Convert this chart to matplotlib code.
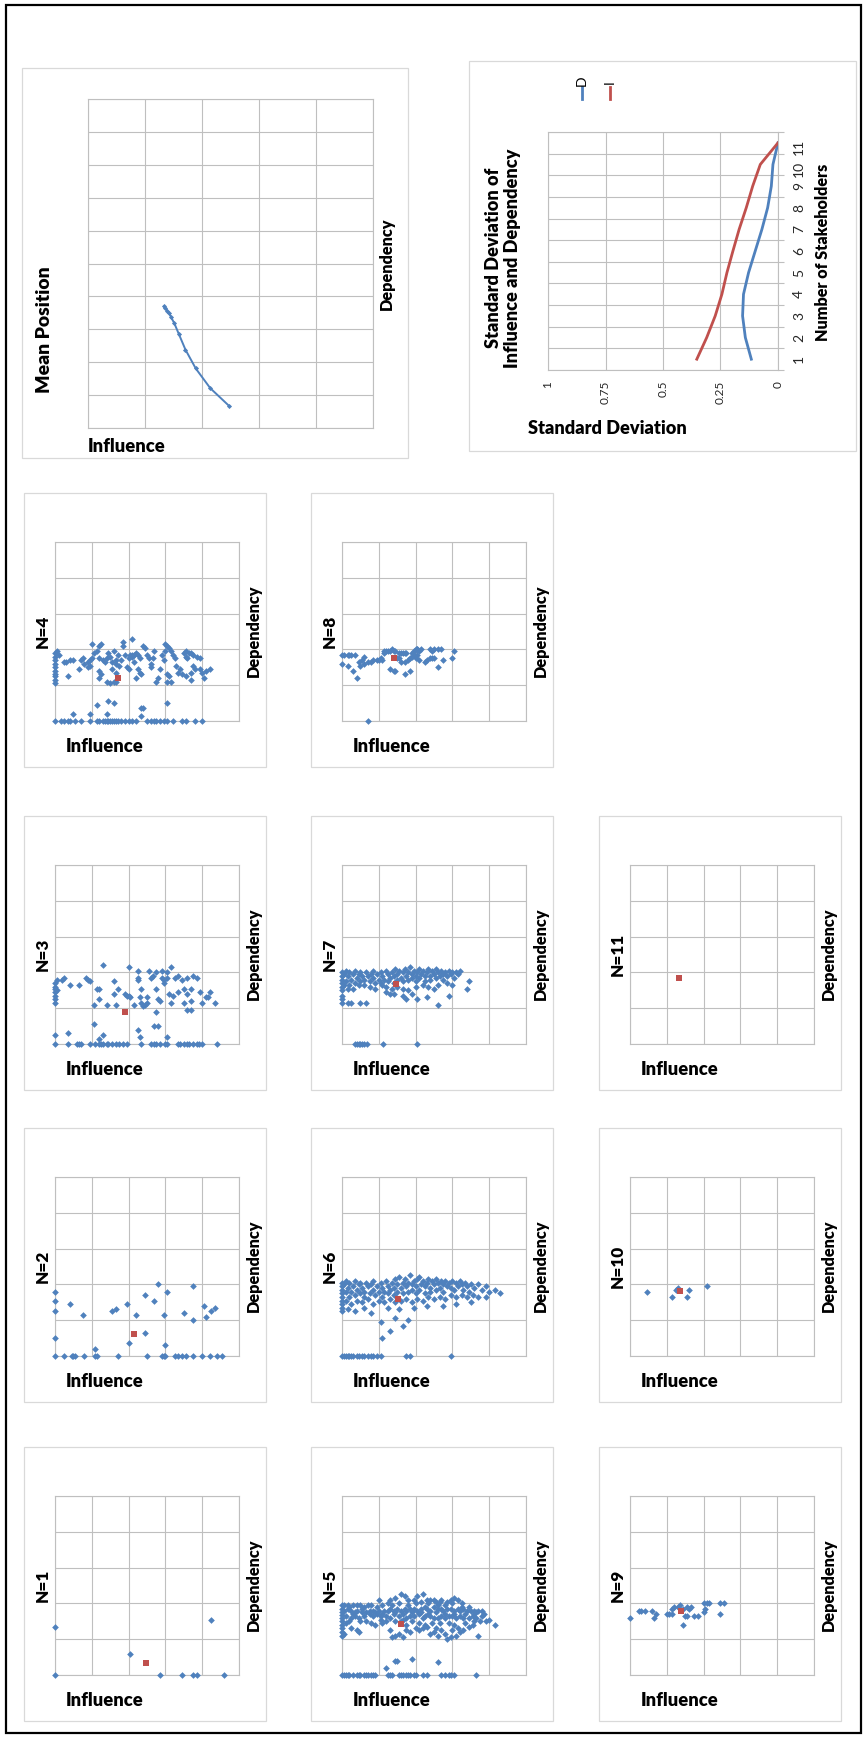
import numpy as np
import matplotlib
matplotlib.use("Agg")
import matplotlib.pyplot as plt
from matplotlib.patches import Rectangle
from matplotlib.lines import Line2D

plt.rcParams['font.family'] = ['Lato', 'DejaVu Sans']

# ---------------------------------------------------------------- data
stakeholders = list(range(1, 12))

# mean (influence, dependency) for N = 1 .. 11
mean_influence = [0.494, 0.429, 0.378, 0.342, 0.319, 0.303, 0.292, 0.284, 0.278, 0.271, 0.267]
mean_dependency = [0.068, 0.121, 0.181, 0.238, 0.285, 0.318, 0.336, 0.350, 0.357, 0.365, 0.370]

# standard deviation of dependency (D) and influence (I) for N = 1 .. 11
sd_dependency = [0.116, 0.142, 0.154, 0.150, 0.128, 0.099, 0.070, 0.045, 0.029, 0.022, 0.0]
sd_influence = [0.353, 0.310, 0.273, 0.244, 0.222, 0.196, 0.169, 0.138, 0.110, 0.077, 0.0]

sd_ticks = [1, 0.75, 0.5, 0.25, 0]
sd_ticklabels = ['1', '0.75', '0.5', '0.25', '0']

# stakeholder positions (influence, dependency) for each group size N
points_n1 = [(0, 0), (0, .27), (.41, .12), (.57, 0), (.69, 0), (.75, 0), (.77, 0), (.85, .31), (.92, 0)]

points_n2 = [
    (0, 0), (.05, 0), (.09, 0), (.10, 0), (.11, 0), (.16, 0), (.22, 0), (.23, 0), (.34, 0), (.50, 0),
    (.58, 0), (.59, 0), (.60, 0), (.65, 0), (.67, 0), (.69, 0), (.71, 0), (.75, 0), (.80, 0), (.84, 0),
    (.88, 0), (.91, 0),
    (0, .36), (0, .31), (0, .25), (0, .10), (.08, .29), (.15, .23), (.22, .04), (.31, .25), (.33, .26),
    (.39, .29), (.40, .07), (.44, .23), (.49, .34), (.49, .13), (.54, .31), (.56, .40), (.59, .23),
    (.60, .06), (.61, .36), (.70, .24), (.75, .39), (.75, .20), (.81, .28), (.82, .22), (.85, .25),
    (.87, .27)]

points_n3 = [
    (0, 0), (.07, 0), (.12, 0), (.13, 0), (.14, 0), (.19, 0), (.22, 0), (.24, 0), (.25, 0), (.26, 0),
    (.28, 0), (.29, 0), (.31, 0), (.33, 0), (.35, 0), (.37, 0), (.39, 0), (.47, 0), (.52, 0), (.54, 0),
    (.55, 0), (.57, 0), (.60, 0), (.61, 0), (.67, 0), (.68, 0), (.70, 0), (.72, 0), (.73, 0), (.75, 0),
    (.77, 0), (.78, 0), (.80, 0), (.88, 0),
    (0, .34), (0, .32), (0, .31), (0, .29), (0, .27), (0, .25), (0, .23), (0, .05),
    (.01, .36), (.01, .30), (.04, .36), (.05, .37), (.08, .33), (.13, .33), (.17, .37), (.18, .36),
    (.19, .35), (.23, .31), (.24, .31), (.21, .11), (.07, .06), (.24, .03), (.26, .05), (.26, .44),
    (.28, .22), (.32, .28), (.33, .22), (.32, .35), (.34, .31), (.38, .28), (.39, .27), (.40, .43),
    (.40, .27), (.41, .26), (.43, .22), (.45, .41), (.45, .36), (.45, .37), (.46, .26), (.47, .31),
    (.47, .23), (.48, .21), (.49, .22), (.50, .23), (.50, .26), (.51, .41), (.52, .37), (.53, .38),
    (.55, .40), (.55, .18), (.55, .31), (.56, .25), (.57, .24), (.58, .41), (.58, .37), (.59, .34),
    (.59, .36), (.61, .37), (.61, .40), (.63, .43), (.62, .28), (.63, .23), (.64, .27), (.65, .37),
    (.67, .29), (.67, .38), (.69, .36), (.70, .31), (.70, .23), (.72, .37), (.72, .28), (.74, .31),
    (.74, .24), (.75, .38), (.77, .37), (.72, .19), (.74, .19), (.79, .29), (.80, .23), (.82, .26),
    (.83, .26), (.84, .29), (.87, .23), (.45, .08), (.54, .10), (.56, .10), (.46, .04), (.61, .04),
    (.21, .22), (.24, .25)]

points_n4 = [
    (0, 0), (.03, 0), (.05, 0), (.07, 0), (.08, 0), (.11, 0), (.14, 0), (.19, 0), (.23, 0), (.24, 0),
    (.26, 0), (.27, 0), (.28, 0), (.29, 0), (.30, 0), (.31, 0), (.32, 0), (.33, 0), (.34, 0), (.36, 0),
    (.38, 0), (.40, 0), (.42, 0), (.44, 0), (.50, 0), (.52, 0), (.54, 0), (.55, 0), (.57, 0), (.59, 0),
    (.61, 0), (.64, 0), (.69, 0), (.71, 0), (.76, 0), (.80, 0),
    (0, .38), (0, .36), (0, .34), (0, .32), (0, .30), (0, .28), (0, .26), (0, .25), (0, .23), (0, .21),
    (.10, .04), (.19, .04), (.23, .09), (.29, .11), (.32, .10), (.28, .04), (.47, .07), (.48, .07),
    (.47, .03), (.61, .10),
    (.01, .39), (.02, .37), (.05, .33), (.06, .33), (.08, .34), (.10, .34), (.07, .25), (.13, .29),
    (.14, .34), (.15, .35), (.16, .32), (.18, .33), (.19, .34), (.19, .31), (.20, .35), (.18, .30),
    (.20, .43), (.21, .38), (.23, .39), (.24, .42), (.25, .43), (.24, .35), (.26, .34), (.27, .33),
    (.24, .28), (.24, .24), (.25, .26), (.28, .35), (.29, .38), (.30, .36), (.31, .33), (.32, .39),
    (.33, .34), (.33, .32), (.34, .37), (.28, .22), (.30, .21), (.32, .22), (.33, .22), (.31, .29),
    (.33, .27), (.35, .31), (.36, .34), (.37, .44), (.37, .42), (.38, .37), (.39, .30), (.40, .29),
    (.40, .35), (.41, .37), (.42, .37), (.42, .46), (.42, .36), (.43, .37), (.44, .38), (.45, .37),
    (.46, .35), (.43, .33), (.45, .29), (.46, .27), (.47, .26), (.44, .24), (.48, .42), (.49, .41),
    (.50, .37), (.51, .35), (.52, .30), (.52, .32), (.53, .35), (.54, .39), (.55, .22), (.56, .24),
    (.57, .29), (.58, .37), (.59, .34), (.60, .39), (.60, .43), (.61, .42), (.62, .41), (.63, .39),
    (.64, .37), (.65, .35), (.61, .26), (.62, .25), (.61, .22), (.63, .22), (.66, .31), (.67, .27),
    (.68, .29), (.69, .26), (.70, .38), (.71, .36), (.71, .39), (.72, .35), (.73, .38), (.74, .38),
    (.75, .37), (.75, .31), (.76, .29), (.74, .27), (.74, .23), (.71, .25), (.79, .29), (.80, .27),
    (.81, .24), (.82, .28), (.84, .29), (.79, .35), (.77, .36)]

points_n5 = [
    (0, 0), (.01, 0), (.02, 0), (.03, 0), (.04, 0), (.06, 0), (.08, 0), (.09, 0), (.10, 0), (.12, 0),
    (.13, 0), (.14, 0), (.16, 0), (.17, 0), (.18, 0), (.25, 0), (.26, 0), (.27, 0), (.31, 0), (.32, 0),
    (.33, 0), (.35, 0), (.36, 0), (.37, 0), (.39, 0), (.40, 0), (.44, 0), (.46, 0), (.54, 0), (.56, 0),
    (.58, 0), (.59, 0), (.61, 0), (.73, 0),
    (.24, .04), (.29, .08), (.30, .08), (.38, .09), (.52, .07),
    (0, .39), (0, .37), (0, .35), (0, .335), (0, .32), (0, .30), (0, .28), (0, .26), (0, .24), (0, .22),
    (.20, .42), (.26, .42), (.29, .43), (.32, .45), (.34, .44), (.36, .42), (.39, .42), (.41, .44),
    (.44, .45), (.46, .42), (.48, .42), (.50, .42), (.51, .41), (.53, .41), (.54, .42), (.57, .41),
    (.59, .42), (.61, .43), (.63, .42), (.65, .40), (.25, .40), (.22, .39), (.16, .39), (.14, .39),
    (.10, .39), (.08, .39), (.06, .39), (.03, .39), (.01, .39),
    (.01, .36), (.03, .37), (.05, .36), (.07, .35), (.08, .36), (.11, .37), (.13, .35), (.15, .36),
    (.17, .36), (.20, .36), (.23, .36), (.25, .36), (.26, .37), (.28, .36), (.30, .37), (.32, .36),
    (.34, .37), (.35, .36), (.37, .37), (.39, .37), (.41, .36), (.43, .37), (.45, .38), (.46, .37),
    (.48, .36), (.50, .38), (.52, .37), (.54, .37), (.55, .36), (.57, .37), (.59, .37), (.61, .36),
    (.63, .37), (.64, .36), (.66, .37), (.68, .36), (.70, .36), (.72, .36), (.74, .36), (.76, .36),
    (.02, .33), (.05, .32), (.07, .33), (.09, .32), (.12, .33), (.15, .34), (.17, .33), (.19, .34),
    (.21, .33), (.24, .33), (.26, .32), (.28, .34), (.31, .33), (.33, .31), (.35, .32), (.37, .33),
    (.39, .33), (.42, .34), (.44, .32), (.45, .33), (.48, .33), (.50, .32), (.52, .32), (.54, .33),
    (.56, .32), (.58, .33), (.60, .33), (.62, .32), (.64, .33), (.66, .32), (.69, .32), (.71, .33),
    (.73, .32), (.76, .33), (.78, .30), (.83, .28),
    (.02, .29), (.05, .26), (.08, .25), (.09, .24), (.01, .23), (.13, .30), (.16, .29), (.18, .28),
    (.22, .29), (.24, .30), (.26, .25), (.27, .21), (.29, .22), (.31, .23), (.33, .21), (.35, .25),
    (.37, .24), (.40, .26), (.42, .25), (.45, .28), (.46, .27), (.48, .23), (.50, .24), (.52, .22),
    (.54, .25), (.56, .23), (.57, .20), (.59, .21), (.62, .22), (.63, .26), (.66, .25), (.69, .27),
    (.71, .28), (.74, .22), (.32, .30), (.35, .28),
    (.04, .38), (.12, .38), (.19, .38), (.27, .39), (.31, .40), (.36, .39), (.40, .40), (.43, .41),
    (.47, .40), (.52, .39), (.56, .39), (.60, .40), (.65, .38), (.69, .38), (.73, .35), (.80, .31),
    (.06, .34), (.11, .35), (.18, .35), (.22, .34), (.29, .35), (.33, .34), (.38, .35), (.43, .35),
    (.47, .34), (.51, .35), (.56, .34), (.61, .34), (.67, .34), (.72, .34), (.77, .34), (.75, .30),
    (.04, .30), (.10, .30), (.21, .31), (.29, .30), (.38, .30), (.42, .29), (.49, .29), (.53, .29),
    (.58, .29), (.61, .28), (.67, .29), (.72, .30), (.44, .26), (.51, .26), (.60, .25), (.64, .24)]

points_n6 = [
    (0, 0), (.01, 0), (.02, 0), (.03, 0), (.04, 0), (.05, 0), (.06, 0), (.08, 0), (.09, 0), (.11, 0),
    (.12, 0), (.14, 0), (.16, 0), (.17, 0), (.19, 0), (.21, 0), (.35, 0), (.37, 0), (.59, 0),
    (.22, .10), (.26, .14), (.33, .17), (.21, .19), (.29, .21), (.36, .20),
    (0, .41), (0, .39), (0, .37), (0, .35), (0, .33), (0, .31), (0, .29), (0, .27), (0, .25),
    (.01, .40), (.02, .42), (.02, .36), (.03, .38), (.04, .33), (.04, .41), (.05, .36), (.06, .39),
    (.07, .34), (.07, .42), (.08, .37), (.09, .40), (.10, .35), (.10, .41), (.11, .38), (.12, .33),
    (.12, .36), (.13, .41), (.14, .39), (.15, .35), (.16, .40), (.17, .37), (.17, .42), (.18, .34),
    (.19, .39), (.20, .36), (.21, .41), (.22, .38), (.22, .33), (.23, .36), (.24, .42), (.25, .39),
    (.25, .35), (.26, .37), (.27, .41), (.28, .38), (.28, .34), (.29, .43), (.30, .36), (.30, .40),
    (.31, .44), (.32, .38), (.33, .41), (.33, .35), (.34, .43), (.35, .39), (.36, .41), (.36, .36),
    (.37, .45), (.38, .40), (.38, .37), (.39, .42), (.40, .39), (.40, .35), (.41, .43), (.42, .44),
    (.42, .37), (.43, .40), (.44, .42), (.45, .39), (.45, .35), (.46, .41), (.47, .43), (.48, .38),
    (.48, .36), (.49, .42), (.50, .40), (.51, .37), (.51, .43), (.52, .41), (.53, .38), (.54, .42),
    (.55, .40), (.55, .36), (.56, .42), (.57, .39), (.58, .41), (.59, .38), (.60, .42), (.61, .37),
    (.62, .41), (.63, .39), (.64, .42), (.65, .40), (.66, .37), (.67, .41), (.68, .39), (.69, .36),
    (.70, .40), (.72, .38), (.74, .40), (.76, .37), (.78, .39), (.80, .36), (.83, .37), (.86, .35),
    (.02, .31), (.05, .29), (.08, .31), (.11, .30), (.14, .32), (.17, .29), (.20, .31), (.23, .30),
    (.26, .32), (.29, .30), (.32, .31), (.35, .32), (.38, .30), (.41, .32), (.44, .31), (.47, .33),
    (.50, .32), (.53, .33), (.56, .32), (.59, .34), (.62, .33), (.65, .34), (.68, .33), (.71, .34),
    (.74, .33), (.78, .33), (.03, .26), (.07, .25), (.12, .27), (.16, .24), (.25, .27), (.31, .26),
    (.39, .27), (.46, .28), (.55, .28), (.62, .29), (.70, .30)]

points_n7 = [
    (.07, 0), (.08, 0), (.09, 0), (.10, 0), (.11, 0), (.12, 0), (.135, 0), (.225, 0), (.41, 0),
    (0, .40), (0, .38), (0, .36), (0, .34), (0, .32), (0, .30), (.01, .39), (.02, .41), (.02, .35),
    (.03, .38), (.04, .33), (.04, .40), (.05, .36), (.06, .39), (.07, .34), (.07, .41), (.08, .37),
    (.09, .39), (.10, .35), (.10, .40), (.11, .38), (.12, .33), (.12, .36), (.13, .40), (.14, .38),
    (.15, .35), (.16, .39), (.17, .37), (.17, .41), (.18, .34), (.19, .39), (.20, .36), (.21, .40),
    (.22, .38), (.22, .33), (.23, .36), (.24, .41), (.25, .39), (.25, .35), (.26, .37), (.27, .40),
    (.28, .38), (.28, .34), (.29, .42), (.30, .36), (.30, .39), (.31, .41), (.32, .37), (.33, .40),
    (.33, .35), (.34, .42), (.35, .38), (.36, .40), (.36, .36), (.37, .43), (.38, .39), (.38, .37),
    (.39, .41), (.40, .38), (.40, .35), (.41, .40), (.42, .42), (.42, .37), (.43, .39), (.44, .41),
    (.45, .38), (.45, .35), (.46, .40), (.47, .42), (.48, .38), (.48, .36), (.49, .41), (.50, .39),
    (.51, .37), (.51, .42), (.52, .40), (.53, .38), (.54, .41), (.55, .39), (.55, .36), (.56, .40),
    (.57, .38), (.58, .41), (.59, .39), (.60, .40), (.61, .37), (.62, .40), (.63, .39), (.64, .41),
    (.57, .34), (.60, .33), (.52, .33), (.50, .31), (.47, .32), (.44, .33), (.40, .32), (.36, .30),
    (.33, .31), (.30, .32), (.27, .31), (.24, .32), (.21, .34), (.18, .31), (.15, .32), (.09, .33),
    (.06, .31), (.03, .31), (.01, .33),
    (0, .23), (.03, .23), (.05, .23), (.10, .23), (.13, .23), (.24, .29), (.26, .28), (.28, .28),
    (.33, .27), (.35, .25), (.38, .28), (.41, .25), (.46, .26), (.52, .22), (.58, .27), (.68, .31),
    (.69, .35), (0, .27), (0, .25)]

points_n8 = [
    (0, .37), (.01, .37), (.03, .37), (.04, .37), (.05, .37), (.07, .37), (0, .32), (.03, .31),
    (.06, .28), (.08, .24), (.09, .33), (.10, .31), (.11, .34), (.12, .36), (.12, .32), (.14, .33),
    (.16, .33), (.17, .34), (.19, .34), (.20, .34), (.21, .35), (.22, .34), (.23, .38), (.23, .39),
    (.24, .39), (.25, .39), (.26, .39), (.27, .40), (.28, .39), (.29, .39), (.31, .38), (.32, .38),
    (.33, .38), (.34, .38), (.35, .38), (.30, .35), (.31, .35), (.32, .33), (.34, .33), (.36, .34),
    (.37, .35), (.38, .36), (.39, .37), (.26, .29), (.28, .28), (.29, .28), (.34, .26), (.37, .28),
    (.38, .38), (.39, .39), (.40, .40), (.41, .40), (.41, .40), (.42, .39), (.43, .40), (.40, .35),
    (.41, .37), (.42, .34), (.45, .33), (.46, .34), (.48, .35), (.49, .35), (.50, .35), (.48, .40),
    (.49, .39), (.50, .40), (.52, .40), (.54, .40), (.52, .30), (.55, .34), (.60, .35), (.61, .39),
    (.14, 0)]

points_n9 = [
    (0, .32), (.05, .36), (.06, .36), (.08, .36), (.12, .36), (.14, .34), (.13, .32), (.20, .34),
    (.21, .34), (.23, .34), (.23, .37), (.24, .38), (.26, .38), (.27, .39), (.29, .37), (.30, .33),
    (.31, .33), (.29, .28), (.31, .38), (.32, .37), (.33, .38), (.35, .33), (.37, .33), (.40, .35),
    (.41, .37), (.40, .40), (.42, .40), (.43, .40), (.49, .40), (.51, .40), (.49, .34)]

points_n10 = [(.09, .36), (.23, .33), (.25, .37), (.26, .38), (.31, .33), (.32, .37), (.42, .39)]

points_n11 = []

group_points = [points_n1, points_n2, points_n3, points_n4, points_n5, points_n6,
                points_n7, points_n8, points_n9, points_n10, points_n11]

# ---------------------------------------------------------------- style
BLUE = '#4F81BD'
RED = '#C0504D'
GRID = '#BFBFBF'
FRAME = '#D9D9D9'
TXT = '#000000'
WEIGHT = 'heavy'

W, H = 867, 1740
fig = plt.figure(figsize=(W / 100, H / 100), dpi=100)
renderer = fig.canvas.get_renderer()


def fx(x):
    return x / W


def fy(y):
    return 1 - y / H


def px_rect(x0, y0, x1, y1):
    return [fx(x0), fy(y1), (x1 - x0) / W, (y1 - y0) / H]


def frame(x0, y0, x1, y1, color=FRAME, lw=0.9):
    fig.patches.append(Rectangle((fx(x0), fy(y1)), (x1 - x0) / W, (y1 - y0) / H,
                                 transform=fig.transFigure, fill=False,
                                 edgecolor=color, linewidth=lw))


def bold_text(x, y, s, rot=0, ha='center', size=12, **kw):
    return fig.text(fx(x), fy(y), s, rotation=rot, ha=ha, va='center', fontsize=size,
                    fontweight=WEIGHT, color=TXT, **kw)


def size_for(s, length_px, rot=0):
    """Font size at which the string s runs length_px pixels."""
    probe = bold_text(0, 0, s, rot=rot)
    bb = probe.get_window_extent(renderer)
    run = bb.height if rot == 90 else bb.width
    size = probe.get_fontsize() * length_px / run
    probe.remove()
    return size


def style_grid(ax):
    ax.set_axisbelow(True)
    ax.grid(True, color=GRID, linewidth=0.8)
    ax.tick_params(length=0, labelbottom=False, labelleft=False)
    for s in ax.spines.values():
        s.set_color(GRID)
        s.set_linewidth(0.8)


# outer page border
frame(6, 6, 861, 1734, color='#000000', lw=1.6)

dep_size = size_for('Dependency', 92, rot=90)
infl_size = size_for('Influence', 77)
title_size = size_for('N=4', 33, rot=90)

col_left = [24, 311, 599]
row_top = [1448, 1129, 817, 494]
PW, PH = 242, 274

for n in stakeholders:
    col = (n - 1) // 4
    row = (n - 1) % 4
    left, top = col_left[col], row_top[row]
    frame(left, top, left + PW, top + PH)
    ax = fig.add_axes(px_rect(left + 31, top + 49, left + 215, top + 228))
    ax.set_xlim(0, 1)
    ax.set_ylim(0, 1)
    ax.set_xticks(np.arange(0, 1.01, 0.2))
    ax.set_yticks(np.arange(0, 1.01, 0.2))
    style_grid(ax)
    pts = group_points[n - 1]
    if pts:
        infl, dep = zip(*pts)
        ax.plot(infl, dep, ls='none', marker='D', ms=3.4, color=BLUE,
                markeredgewidth=0, clip_on=False, zorder=3)
    ax.plot([mean_influence[n - 1]], [mean_dependency[n - 1]], ls='none', marker='s',
            ms=4.0, color=RED, markeredgewidth=0, clip_on=False, zorder=4)
    bold_text(left + 19, top + PH / 2, f'N={n}', rot=90, size=title_size)
    bold_text(left + 230, top + PH / 2, 'Dependency', rot=90, size=dep_size)
    bold_text(left + 42, top + 228 + 25, 'Influence', ha='left', size=infl_size)

# ---------------------------------------------------------------- mean position
frame(22, 69, 408, 459)
axm = fig.add_axes(px_rect(88, 100, 373, 429))
axm.set_xlim(0, 1)
axm.set_ylim(0, 1)
axm.set_xticks(np.arange(0, 1.01, 0.2))
axm.set_yticks(np.arange(0, 1.01, 0.1))
style_grid(axm)
axm.plot(mean_influence, mean_dependency, color=BLUE, lw=1.4, marker='D', ms=2.6,
         markeredgewidth=0, zorder=3)
bold_text(45, 330, 'Mean Position', rot=90, size=size_for('Mean Position', 126, rot=90))
bold_text(387, 264, 'Dependency', rot=90, size=dep_size)
bold_text(88, 447, 'Influence', ha='left', size=infl_size)

# ---------------------------------------------------------------- standard deviation
frame(469, 62, 856, 452)
axs = fig.add_axes(px_rect(548, 133, 778, 371))
axs.set_xlim(1, 0)
axs.set_ylim(0.5, 11.5)
axs.set_xticks(sd_ticks)
axs.set_xticklabels(sd_ticklabels)
axs.set_yticks(stakeholders)
axs.set_yticklabels([str(s) for s in stakeholders])
axs.set_yticks(np.arange(0.5, 11.6, 1.0), minor=True)
axs.set_axisbelow(True)
axs.grid(True, axis='x', which='major', color=GRID, linewidth=0.8)
axs.grid(True, axis='y', which='minor', color=GRID, linewidth=0.8)
for s in axs.spines.values():
    s.set_color(GRID)
    s.set_linewidth(0.8)
axs.yaxis.tick_right()
axs.tick_params(axis='x', length=0, pad=7, labelrotation=90, labelsize=8.5, labelcolor='#262626')
axs.tick_params(axis='y', which='major', length=0, pad=11, labelrotation=90, labelsize=10,
                labelcolor='#262626')
axs.tick_params(axis='y', which='minor', length=4, direction='out', color=GRID, width=0.8)
axs.plot(sd_dependency, stakeholders, color=BLUE, lw=2.0, zorder=3)
axs.plot(sd_influence, stakeholders, color=RED, lw=2.0, zorder=3)

sd_title_size = size_for('Influence and Dependency', 218, rot=90)
bold_text(503, 258, 'Standard Deviation of\nInfluence and Dependency', rot=90,
          size=sd_title_size, multialignment='center', linespacing=1.15)
bold_text(823, 252, 'Number of Stakeholders', rot=90,
          size=size_for('Number of Stakeholders', 177, rot=90))
bold_text(528, 428, 'Standard Deviation', ha='left',
          size=size_for('Standard Deviation', 158))

# legend, drawn vertically to follow the rotated page
for xpos, col, name, ytxt in [(582, BLUE, 'D', 81), (610, RED, 'I', 82)]:
    fig.lines.append(Line2D([fx(xpos), fx(xpos)], [fy(88), fy(100)], transform=fig.transFigure,
                            color=col, lw=2.0))
    fig.text(fx(xpos), fy(ytxt), name, rotation=90, ha='center', va='center',
             fontsize=10, color=TXT)

fig.savefig('out.png', dpi=100, facecolor='white')
